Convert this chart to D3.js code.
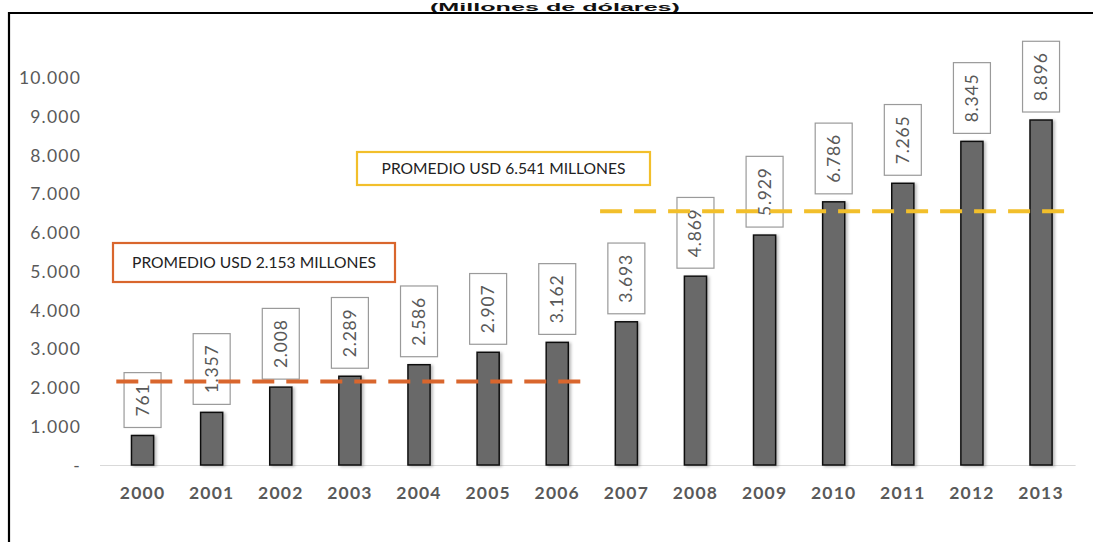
<!DOCTYPE html>
<html lang="es">
<head>
<meta charset="utf-8">
<script src="https://cdn.jsdelivr.net/npm/d3@7/dist/d3.min.js"></script>
<style>
  html, body { margin: 0; padding: 0; background: #fff; }
  svg { display: block; }
</style>
</head>
<body>
<svg id="chart" width="1093" height="542"></svg>
<script>
// Exportaciones anuales, millones de dólares
const years = ['2000', '2001', '2002', '2003', '2004', '2005', '2006',
               '2007', '2008', '2009', '2010', '2011', '2012', '2013'];
const values = [761, 1357, 2008, 2289, 2586, 2907, 3162,
                3693, 4869, 5929, 6786, 7265, 8345, 8896];
const yTicks = [0, 1000, 2000, 3000, 4000, 5000, 6000, 7000, 8000, 9000, 10000];

// Promedios por periodo
const avgLabels = ['PROMEDIO USD 2.153 MILLONES', 'PROMEDIO USD 6.541 MILLONES'];
const avgValues = [2153, 6541];
const avgFrom = ['2000', '2007'];
const avgTo = ['2006', '2013'];

const title = '(Millones de dólares)';

// ---- estilos y disposición ----
const W = 1093, H = 542;
const plot = { left: 108, right: 1075.6, top: 77.2, bottom: 465 };
const avgColors = ['#d9662d', '#f2bf2b'];
const avgBoxes = [
  { x: 113, y: 243, w: 282, h: 39 },
  { x: 357, y: 152, w: 293, h: 33 }
];
const textGray = '#595959';

const svg = d3.select('#chart');

const fmt = d3.formatLocale({ decimal: ',', thousands: '.', grouping: [3], currency: ['', ''] }).format(',d');

const x = d3.scaleBand().domain(years).range([plot.left, plot.right])
  .paddingInner(0.68).paddingOuter(0.34);
const step = x.step();
const cx = d => x(d) + x.bandwidth() / 2;
const y = d3.scaleLinear().domain([0, 10000]).range([plot.bottom, plot.top]);

// sombra suave de las barras
const defs = svg.append('defs');
const f = defs.append('filter').attr('id', 'shadow')
  .attr('x', '-50%').attr('y', '-10%').attr('width', '200%').attr('height', '120%');
f.append('feDropShadow').attr('dx', 2).attr('dy', 1).attr('stdDeviation', 1.8)
  .attr('flood-color', '#000').attr('flood-opacity', 0.28);

// título, en la franja sobre el marco
svg.append('text')
  .attr('x', 555).attr('y', 11)
  .attr('text-anchor', 'middle')
  .attr('font-family', '"Liberation Sans", Arial, sans-serif')
  .attr('font-weight', 'bold')
  .attr('font-size', 11)
  .attr('textLength', 250)
  .attr('lengthAdjust', 'spacingAndGlyphs')
  .attr('fill', '#111')
  .text(title);

// marco
svg.append('path')
  .attr('d', `M9,${H} V13 H${W}`)
  .attr('fill', 'none').attr('stroke', '#000').attr('stroke-width', 2.2);

// eje Y (solo etiquetas)
const yAxis = d3.axisLeft(y).tickValues(yTicks)
  .tickFormat(v => v === 0 ? '-' : fmt(v)).tickSize(0).tickPadding(0);
const gy = svg.append('g').attr('transform', 'translate(81,0)').call(yAxis);
gy.select('.domain').remove();
gy.selectAll('text')
  .attr('font-family', 'Lato, "Open Sans", sans-serif')
  .attr('font-size', 17.5)
  .attr('letter-spacing', 1.2)
  .attr('fill', textGray)
  .attr('dy', '0.36em');

// eje X
const xAxis = d3.axisBottom(x).tickSize(0).tickPadding(0);
const gx = svg.append('g').attr('transform', `translate(0,${plot.bottom})`).call(xAxis);
gx.select('.domain')
  .attr('d', `M${plot.left - 8},0.5 H${plot.right}`)
  .attr('stroke', '#d9d9d9').attr('stroke-width', 1.2);
gx.selectAll('text')
  .attr('y', 34)
  .attr('dy', 0)
  .attr('font-family', 'Lato, "Open Sans", sans-serif')
  .attr('font-weight', 'bold')
  .attr('font-size', 17.5)
  .attr('letter-spacing', 1.2)
  .attr('fill', textGray);

// barras
svg.append('g').selectAll('rect').data(values).join('rect')
  .attr('x', (d, i) => x(years[i]))
  .attr('y', d => y(d))
  .attr('width', x.bandwidth())
  .attr('height', d => y(0) - y(d))
  .attr('fill', '#696969')
  .attr('stroke', '#111')
  .attr('stroke-width', 1.5)
  .attr('filter', 'url(#shadow)');

// etiquetas de valor en recuadros verticales
const labels = svg.append('g').selectAll('g').data(values).join('g');
labels.each(function (d, i) {
  const g = d3.select(this);
  const rect = g.append('rect');
  const t = g.append('text')
    .attr('font-family', 'Lato, "Open Sans", sans-serif')
    .attr('font-size', 17.5)
    .attr('letter-spacing', 0.8)
    .attr('fill', textGray)
    .attr('text-anchor', 'middle')
    .text(fmt(d));
  const len = t.node().getComputedTextLength();
  const boxW = 37, boxH = len + 22;
  const bx = cx(years[i]) - boxW / 2;
  const bBottom = y(d) - 8;
  rect.attr('x', bx).attr('y', bBottom - boxH)
    .attr('width', boxW).attr('height', boxH)
    .attr('fill', '#fff').attr('stroke', '#9a9a9a').attr('stroke-width', 1.2);
  t.attr('transform', `translate(${cx(years[i]) + 6},${bBottom - boxH / 2}) rotate(-90)`);
});

// líneas de promedio
avgValues.forEach((v, i) => {
  svg.append('line')
    .attr('x1', cx(avgFrom[i]) - 0.38 * step)
    .attr('x2', cx(avgTo[i]) + 0.42 * step)
    .attr('y1', y(v)).attr('y2', y(v))
    .attr('stroke', avgColors[i])
    .attr('stroke-width', 4)
    .attr('stroke-dasharray', '22 12');
});

// recuadros de promedio
avgLabels.forEach((lab, i) => {
  const b = avgBoxes[i];
  svg.append('rect')
    .attr('x', b.x).attr('y', b.y).attr('width', b.w).attr('height', b.h)
    .attr('fill', '#fff').attr('stroke', avgColors[i]).attr('stroke-width', 2.2);
  svg.append('text')
    .attr('x', b.x + b.w / 2).attr('y', b.y + b.h / 2 + 5.5)
    .attr('text-anchor', 'middle')
    .attr('font-family', 'Lato, "Open Sans", sans-serif')
    .attr('font-size', 15.5)
    .attr('fill', '#222')
    .attr('textLength', 244)
    .attr('lengthAdjust', 'spacingAndGlyphs')
    .text(lab);
});
</script>
</body>
</html>
